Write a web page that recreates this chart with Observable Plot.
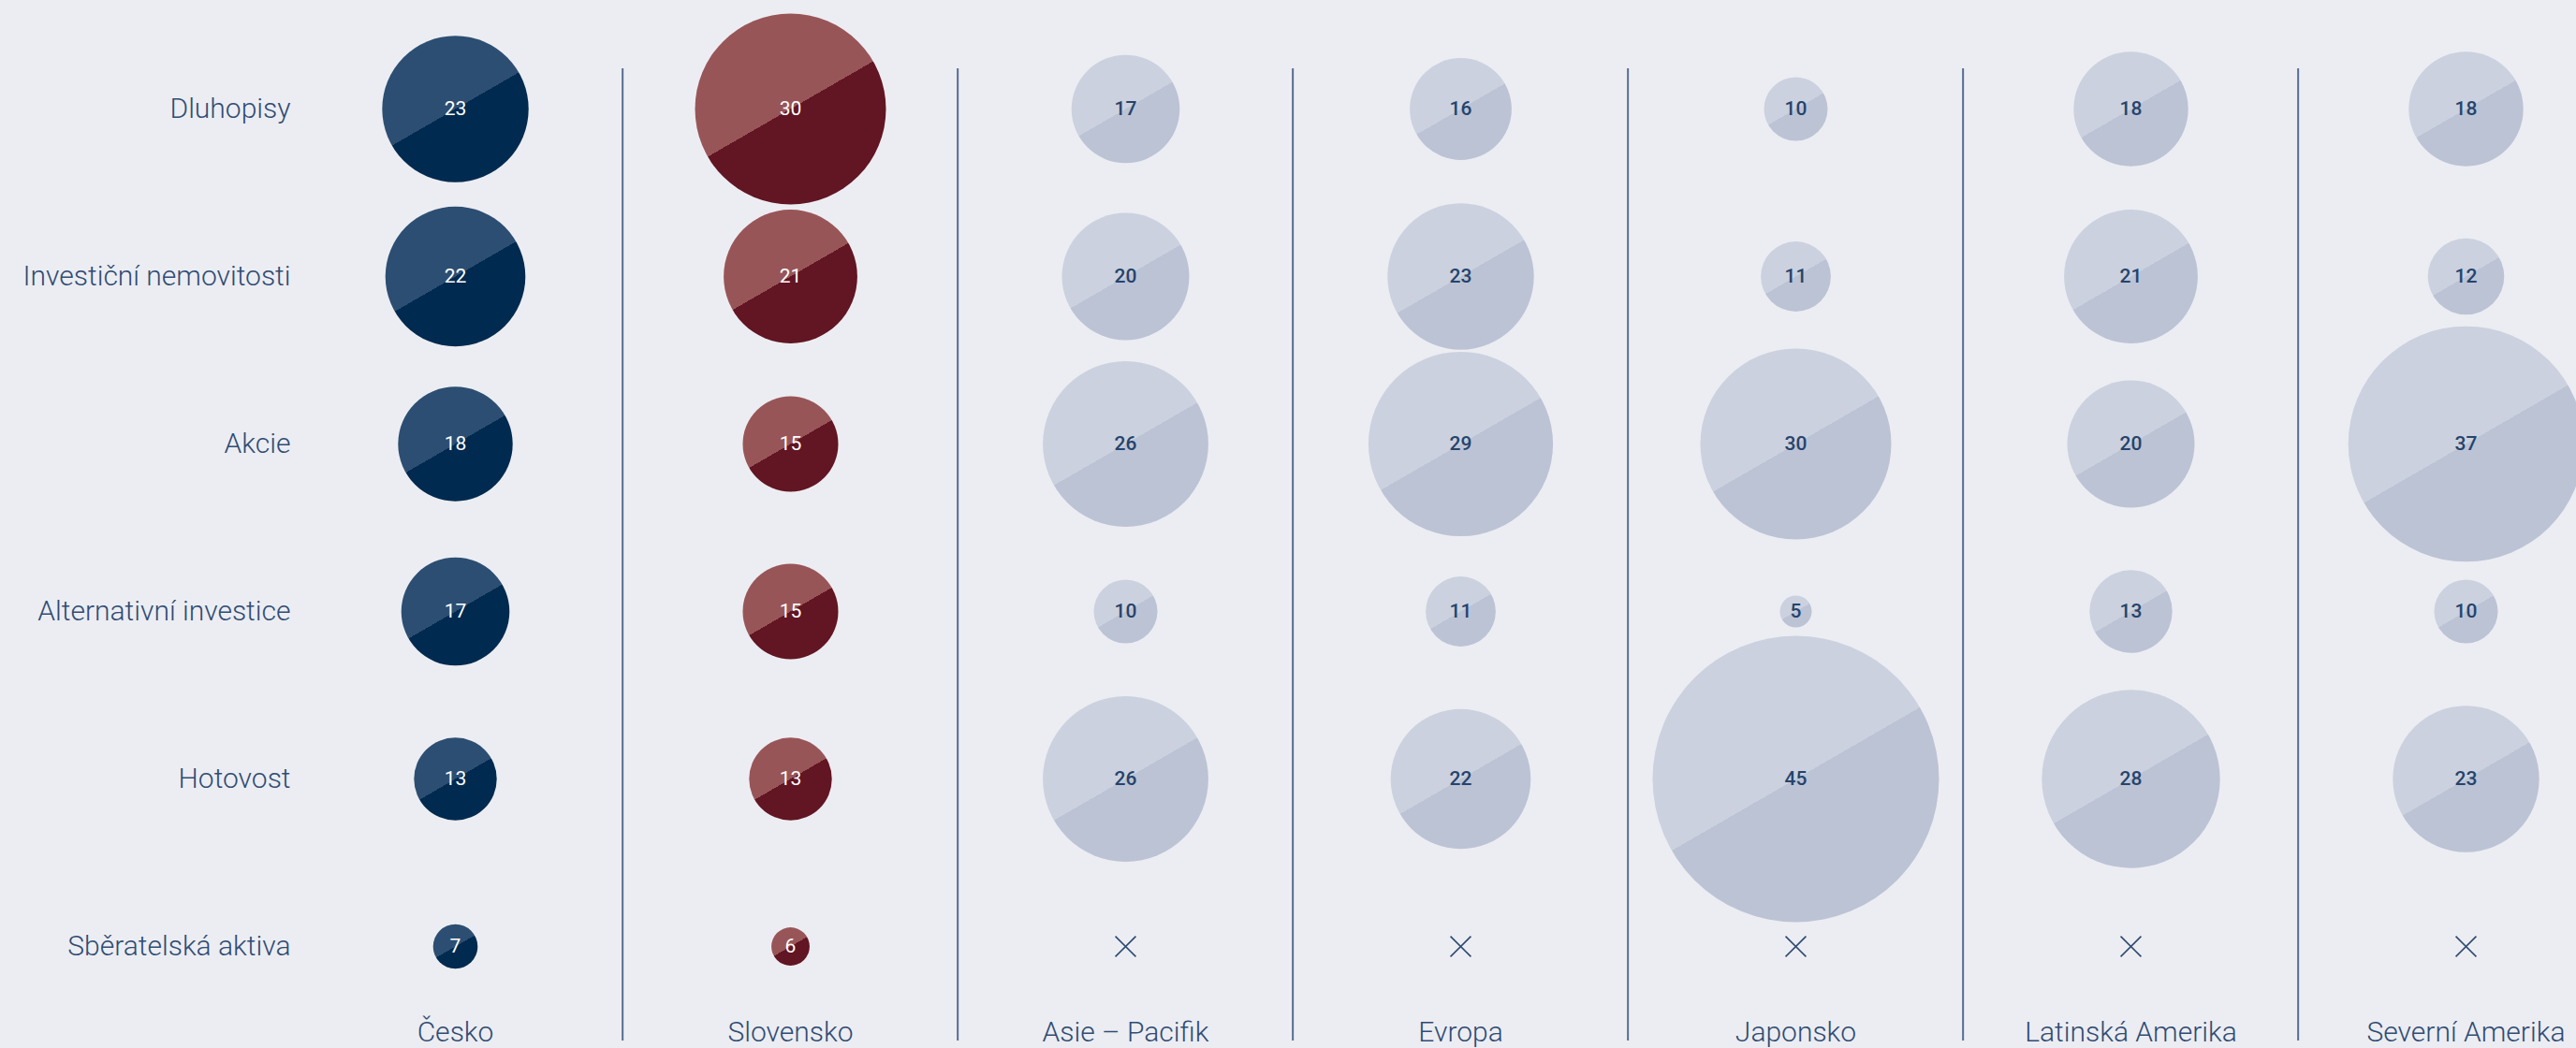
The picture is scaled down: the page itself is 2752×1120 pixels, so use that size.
<!DOCTYPE html>
<html><head><meta charset="utf-8">
<script src="https://cdn.jsdelivr.net/npm/d3@7"></script>
<script src="https://cdn.jsdelivr.net/npm/@observablehq/plot@0.6"></script>
<style>
html,body{margin:0;padding:0;background:#ecedf2;overflow:hidden;}
#chart svg{display:block;}
</style></head><body>
<svg width="0" height="0" style="position:absolute">
<defs>
<linearGradient id="gCZ" x1="0.25" y1="0.067" x2="0.75" y2="0.933">
<stop offset="0.5" stop-color="#2c4e72"/><stop offset="0.5" stop-color="#002a4f"/>
</linearGradient>
<linearGradient id="gSK" x1="0.25" y1="0.067" x2="0.75" y2="0.933">
<stop offset="0.5" stop-color="#985558"/><stop offset="0.5" stop-color="#621522"/>
</linearGradient>
<linearGradient id="gOT" x1="0.25" y1="0.067" x2="0.75" y2="0.933">
<stop offset="0.5" stop-color="#cbd1de"/><stop offset="0.5" stop-color="#bcc3d5"/>
</linearGradient>
</defs></svg>
<div id="chart"></div>
<script>
const regions = ["Česko", "Slovensko", "Asie – Pacifik", "Evropa", "Japonsko", "Latinská Amerika", "Severní Amerika"];
const assets = ["Dluhopisy", "Investiční nemovitosti", "Akcie", "Alternativní investice", "Hotovost", "Sběratelská aktiva"];
const cesko = [23, 22, 18, 17, 13, 7];
const slovensko = [30, 21, 15, 15, 13, 6];
const asiePacifik = [17, 20, 26, 10, 26, null];
const evropa = [16, 23, 29, 11, 22, null];
const japonsko = [10, 11, 30, 5, 45, null];
const latinskaAmerika = [18, 21, 20, 13, 28, null];
const severniAmerika = [18, 12, 37, 10, 23, null];

const series = [cesko, slovensko, asiePacifik, evropa, japonsko, latinskaAmerika, severniAmerika];
const groups = ["cz", "sk", "ot", "ot", "ot", "ot", "ot"];
const table = regions.flatMap((region, i) =>
  assets.map((asset, j) => ({region, asset, value: series[i][j], group: groups[i]})));
const present = table.filter(d => d.value != null);
const missing = table.filter(d => d.value == null);

const W = 2752, H = 1120;
const mL = 484, mR = 116, mT = 116, mB = 109;
const step = (W - mL - mR) / (regions.length - 1);
const font = "Roboto, 'Noto Sans', sans-serif";
const labelColor = "#304c74";

const chart = Plot.plot({
  width: W, height: H,
  marginLeft: mL, marginRight: mR, marginTop: mT, marginBottom: mB,
  style: {background: "#ecedf2", fontFamily: font},
  x: {type: "point", domain: regions, padding: 0, axis: null},
  y: {type: "point", domain: assets, padding: 0, axis: null},
  r: {type: "linear", domain: [0, 45], range: [0, 153]},
  marks: [
    Plot.ruleX(regions.slice(1), {x: d => d, dx: -step / 2, stroke: "#566d90", strokeWidth: 2, insetTop: -43, insetBottom: -101}),
    Plot.dot(present.filter(d => d.group === "cz"), {x: "region", y: "asset", r: "value", fill: "url(#gCZ)", stroke: "none"}),
    Plot.dot(present.filter(d => d.group === "sk"), {x: "region", y: "asset", r: "value", fill: "url(#gSK)", stroke: "none"}),
    Plot.dot(present.filter(d => d.group === "ot"), {x: "region", y: "asset", r: "value", fill: "url(#gOT)", stroke: "none"}),
    Plot.dot(missing, {x: "region", y: "asset", symbol: "times", r: 10, stroke: "#2c4a70", strokeWidth: 1.6}),
    Plot.text(present.filter(d => d.group !== "ot"), {x: "region", y: "asset", text: d => String(d.value), fill: "#ffffff", fontSize: 21, fontWeight: 400}),
    Plot.text(present.filter(d => d.group === "ot"), {x: "region", y: "asset", text: d => String(d.value), fill: "#25446c", fontSize: 21, fontWeight: 500}),
    Plot.text(assets, {y: d => d, frameAnchor: "left", lineAnchor: "middle", dx: -174, textAnchor: "end", text: d => d, fill: labelColor, fontSize: 30, fontWeight: 300}),
    Plot.text(regions, {x: d => d, frameAnchor: "bottom", lineAnchor: "middle", textAnchor: "middle", dy: 92, text: d => d, fill: labelColor, fontSize: 30, fontWeight: 300})
  ]
});
document.getElementById("chart").appendChild(chart);
</script>
</body></html>
